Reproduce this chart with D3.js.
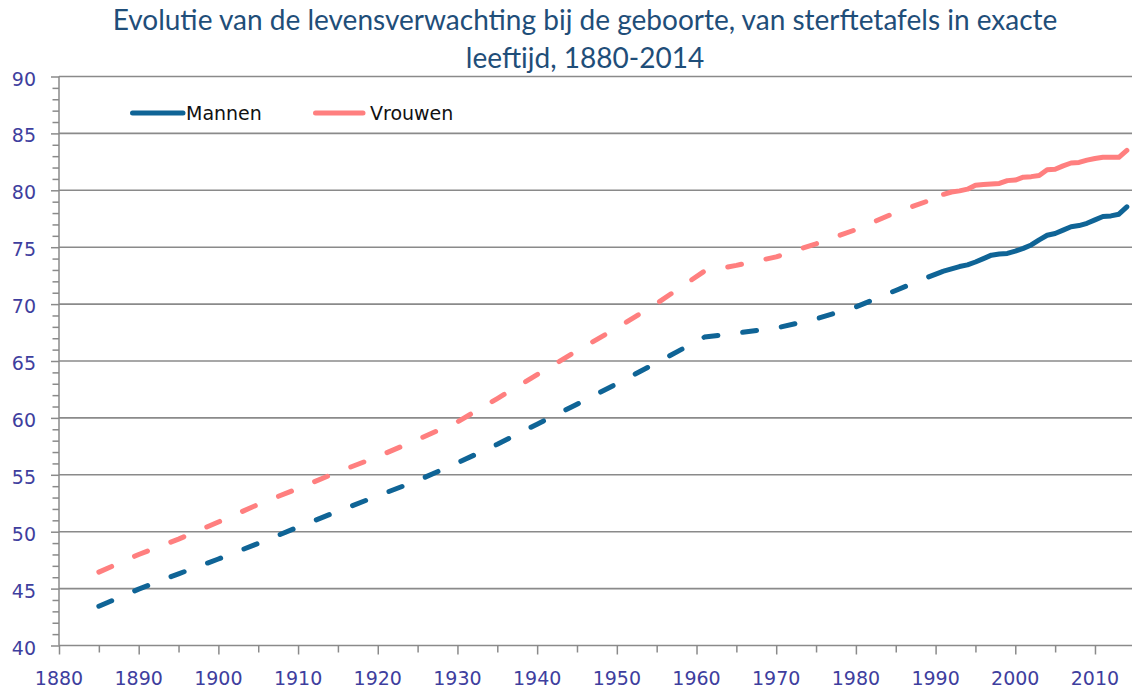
<!DOCTYPE html>
<html>
<head>
<meta charset="utf-8">
<script src="https://cdn.jsdelivr.net/npm/d3@7"></script>
<style>
  html, body { margin: 0; padding: 0; background: #ffffff; }
  svg { display: block; }
</style>
</head>
<body>
<svg id="chart" width="1132" height="693"></svg>
<script>
// ---- data ----
const titleLines = ["Evolutie van de levensverwachting bij de geboorte, van sterftetafels in exacte", "leeftijd, 1880-2014"];
const seriesNames = ["Mannen", "Vrouwen"];
const years = [1885, 1890, 1895, 1900, 1905, 1910, 1915, 1920, 1925, 1930, 1935, 1940, 1945, 1950, 1955, 1961, 1965, 1970, 1975, 1980, 1985, 1989, 1991,
  1992, 1993, 1994, 1995, 1996, 1997, 1998, 1999, 2000, 2001, 2002, 2003, 2004, 2005, 2006, 2007, 2008, 2009, 2010, 2011, 2012, 2013, 2014];
const mannen = [43.45, 44.95, 46.3, 47.6, 48.97, 50.4, 51.8, 53.15, 54.5, 56.05, 57.68, 59.45, 61.2, 63.0, 64.85, 67.1, 67.45, 67.9, 68.7, 69.75, 71.2, 72.35, 72.9,
  73.1, 73.3, 73.45, 73.7, 74.0, 74.3, 74.4, 74.45, 74.65, 74.9, 75.2, 75.65, 76.05, 76.2, 76.5, 76.8, 76.9, 77.1, 77.4, 77.7, 77.75, 77.9, 78.55];
const vrouwen = [46.45, 48.0, 49.35, 50.85, 52.4, 53.8, 55.25, 56.6, 58.1, 59.65, 61.7, 63.8, 65.9, 67.9, 70.05, 72.9, 73.4, 74.15, 75.3, 76.55, 78.05, 79.05, 79.65,
  79.85, 79.95, 80.1, 80.45, 80.5, 80.55, 80.6, 80.85, 80.9, 81.15, 81.2, 81.3, 81.8, 81.85, 82.15, 82.4, 82.45, 82.65, 82.8, 82.9, 82.9, 82.9, 83.5];
const solidFrom = 1991;   // dashed before, solid from this year on
const yTicks = [40, 45, 50, 55, 60, 65, 70, 75, 80, 85, 90];
const xTickLabels = [1880, 1890, 1900, 1910, 1920, 1930, 1940, 1950, 1960, 1970, 1980, 1990, 2000, 2010];

// ---- layout ----
const W = 1132, H = 693;
const plotLeft = 59, plotTop = 76.5, plotBottom = 645.5;
const pxPerYear = 7.969;
const colors = { Mannen: "#0f6496", Vrouwen: "#ff7f7f" };
const gridColor = "#8a8a8a";
const tickColor = "#3e3e9e";

const svg = d3.select("#chart");
svg.append("rect").attr("width", W).attr("height", H).attr("fill", "#fff");

const x = d3.scaleLinear().domain([1880, 2015]).range([plotLeft, plotLeft + 135 * pxPerYear]);
const y = d3.scaleLinear().domain([40, 90]).range([plotBottom, plotTop]);

// gridlines
svg.append("g").selectAll("line").data(yTicks.filter(v => v > 40)).join("line")
  .attr("x1", plotLeft).attr("x2", W)
  .attr("y1", d => y(d)).attr("y2", d => y(d))
  .attr("stroke", gridColor).attr("stroke-width", 1.6);

// y axis (major + minor ticks)
const yAxis = svg.append("g").attr("transform", `translate(${plotLeft},0)`)
  .call(d3.axisLeft(y).tickValues(d3.range(40, 90.5, 1)).tickSize(6.5).tickFormat(""));
yAxis.selectAll(".tick line").filter(d => d % 5 === 0).attr("x2", -8);
yAxis.selectAll("line, path").attr("stroke", gridColor).attr("stroke-width", 1.5);
yAxis.select(".domain").attr("d", `M0,${plotTop}V${plotBottom}`);

svg.append("g").selectAll("text").data(yTicks).join("text")
  .attr("x", 36).attr("y", d => y(d) + 2)
  .attr("text-anchor", "end").attr("dominant-baseline", "central")
  .attr("font-family", "DejaVu Sans").attr("font-size", 19)
  .attr("fill", tickColor).text(d => d);

// x axis
const xAxis = svg.append("g").attr("transform", `translate(0,${plotBottom})`)
  .call(d3.axisBottom(x).tickValues(d3.range(1880, 2015, 5)).tickSize(7).tickFormat(""));
xAxis.selectAll(".tick line").filter(d => d % 10 === 0).attr("y2", 9);
xAxis.selectAll("line, path").attr("stroke", gridColor).attr("stroke-width", 1.5);
xAxis.select(".domain").attr("d", `M${plotLeft},0H${W}`);

svg.append("g").selectAll("text").data(xTickLabels).join("text")
  .attr("x", d => x(d)).attr("y", 685)
  .attr("text-anchor", "middle")
  .attr("font-family", "DejaVu Sans").attr("font-size", 19)
  .attr("fill", tickColor).text(d => d);

// lines
const line = d3.line().x(d => x(d.year)).y(d => y(d.v));
const series = [
  { name: "Mannen", values: years.map((yr, i) => ({ year: yr, v: mannen[i] })) },
  { name: "Vrouwen", values: years.map((yr, i) => ({ year: yr, v: vrouwen[i] })) }
];
const lg = svg.append("g");
series.forEach(s => {
  lg.append("path").datum(s.values.filter(d => d.year <= solidFrom))
    .attr("d", line).attr("fill", "none")
    .attr("stroke", colors[s.name]).attr("stroke-width", 5)
    .attr("stroke-linecap", "round").attr("stroke-linejoin", "round")
    .attr("stroke-dasharray", "14 25");
  lg.append("path").datum(s.values.filter(d => d.year >= solidFrom))
    .attr("d", line).attr("fill", "none")
    .attr("stroke", colors[s.name]).attr("stroke-width", 5)
    .attr("stroke-linecap", "round").attr("stroke-linejoin", "round");
});

// legend
const legendItems = [
  { name: seriesNames[0], x0: 132.5, x1: 183, tx: 186 },
  { name: seriesNames[1], x0: 315.5, x1: 363, tx: 370 }
];
const leg = svg.append("g");
legendItems.forEach(it => {
  leg.append("line").attr("x1", it.x0).attr("x2", it.x1).attr("y1", 113).attr("y2", 113)
    .attr("stroke", colors[it.name]).attr("stroke-width", 5).attr("stroke-linecap", "round");
  leg.append("text").attr("x", it.tx).attr("y", 120)
    .attr("font-family", "DejaVu Sans").attr("font-size", 19)
    .attr("fill", "#111").text(it.name);
});

// title
const tg = svg.append("g");
const t1 = tg.append("text").attr("x", 585).attr("y", 30).attr("text-anchor", "middle")
  .attr("font-family", "Lato").attr("font-size", 30).attr("fill", "#1f4e79").text(titleLines[0]);
const len = t1.node().getComputedTextLength();
const fs = 30 * 945 / len;
t1.attr("font-size", fs);
tg.append("text").attr("x", 585).attr("y", 68).attr("text-anchor", "middle")
  .attr("font-family", "Lato").attr("font-size", fs).attr("fill", "#1f4e79").text(titleLines[1]);
</script>
</body>
</html>
